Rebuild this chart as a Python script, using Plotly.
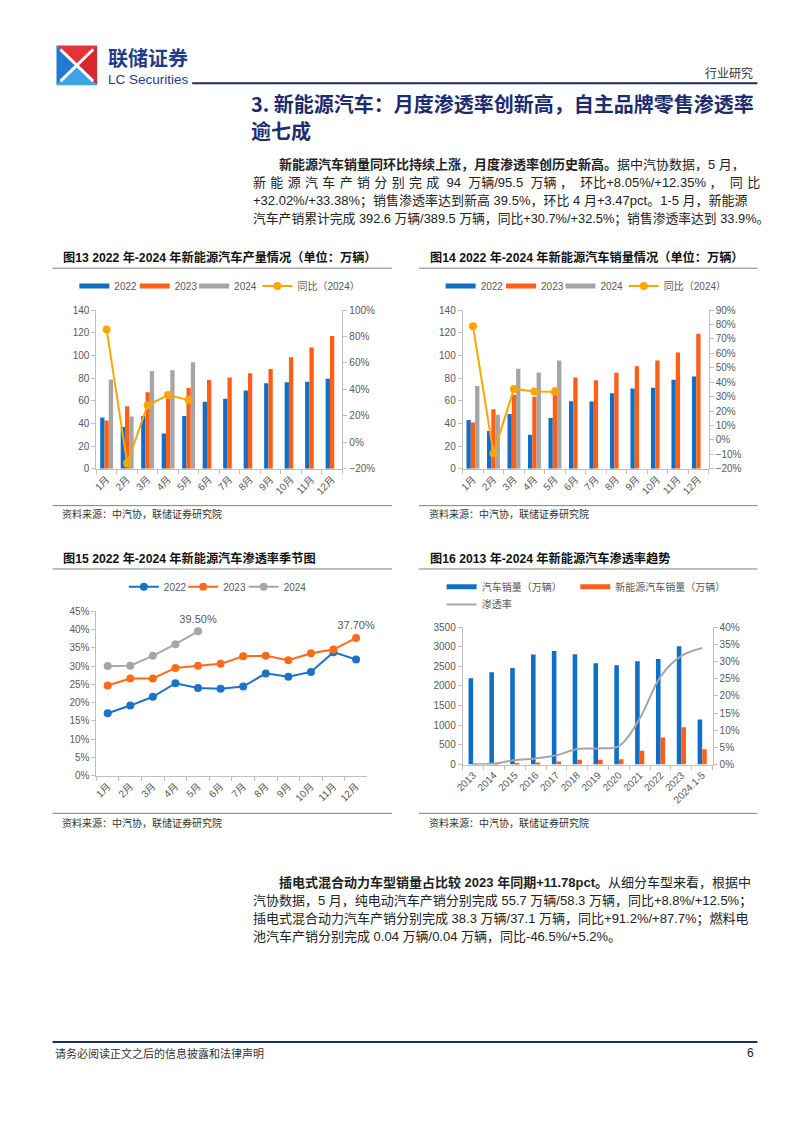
import plotly.graph_objects as go

# ---------------- data ----------------
months = ['1月', '2月', '3月', '4月', '5月', '6月', '7月', '8月', '9月', '10月', '11月', '12月']

prod_2022 = [45.2, 36.8, 46.5, 31.2, 46.6, 59.0, 61.7, 69.1, 75.5, 76.2, 76.8, 79.5]
prod_2023 = [42.5, 55.2, 67.4, 64.0, 71.3, 78.4, 80.5, 84.3, 87.9, 98.3, 107.0, 117.2]
prod_2024 = [78.7, 46.0, 86.3, 87.0, 94.0]
prod_yoy_2024 = [85.2, -15.8, 28.0, 35.7, 32.0]

sales_2022 = [43.1, 33.4, 48.4, 29.9, 44.7, 59.6, 59.3, 66.6, 70.8, 71.4, 78.6, 81.4]
sales_2023 = [40.8, 52.5, 65.3, 63.6, 71.7, 80.6, 78.0, 84.6, 90.4, 95.6, 102.6, 119.1]
sales_2024 = [72.9, 47.7, 88.3, 85.0, 95.5]
sales_yoy_2024 = [78.8, -9.2, 35.3, 33.5, 33.3]

pen_2022 = [17.1, 19.2, 21.6, 25.3, 24.0, 23.8, 24.4, 28.0, 27.1, 28.4, 33.8, 31.8]
pen_2023 = [24.7, 26.6, 26.6, 29.5, 30.1, 30.6, 32.7, 32.8, 31.6, 33.5, 34.5, 37.7]
pen_2024 = [30.0, 30.1, 32.8, 36.0, 39.5]

years = ['2013', '2014', '2015', '2016', '2017', '2018', '2019', '2020', '2021', '2022', '2023', '2024.1-5']
car_sales = [2198, 2349, 2460, 2803, 2888, 2808, 2577, 2531, 2628, 2686, 3009, 1149]
nev_sales = [1.8, 7.5, 33.1, 50.7, 77.7, 125.6, 120.6, 136.7, 352.1, 688.7, 949.5, 389.5]
nev_pen = [0.1, 0.3, 1.3, 1.8, 2.7, 4.5, 4.7, 5.4, 13.4, 25.6, 31.6, 33.9]

# ---------------- helpers ----------------
W, H = 802, 1133
def X(px): return px / W
def Y(py): return 1 - py / H

BLUE = '#0F6FC6'
ORANGE = '#FF5F14'
GRAY = '#A5A5A5'
YOY = '#FFA500'
NAVY = '#1C2C6E'
TICK = dict(size=10, color='#595959', family='Liberation Sans, Noto Sans CJK SC')
BODY = 'Liberation Sans, Noto Sans CJK SC'
CJK = 'Noto Sans CJK SC'

fig = go.Figure()
ann = []
shapes = []
legends = {}
_leg_n = [0]

def new_legend(text_x, y):
    _leg_n[0] += 1
    key = 'legend' if _leg_n[0] == 1 else f'legend{_leg_n[0]}'
    legends[key] = dict(x=X(text_x - 45), y=Y(y), xanchor='left', yanchor='middle', orientation='h',
                        bgcolor='rgba(0,0,0,0)', font=dict(size=10, color='#595959', family=BODY),
                        itemclick=False, itemdoubleclick=False)
    return key

def txt(s, x, y, size=13, color='#222222', anchor='left', family=BODY):
    ann.append(dict(text=s, x=X(x), y=Y(y), xref='paper', yref='paper', xanchor=anchor,
                    yanchor='middle', showarrow=False, font=dict(size=size, color=color, family=family)))

def hline(x0, x1, y, color='#808080', width=1):
    shapes.append(dict(type='line', xref='paper', yref='paper', x0=X(x0), x1=X(x1), y0=Y(y), y1=Y(y),
                       line=dict(color=color, width=width)))

def legend_line(name, color, width, legend, xa, ya):
    fig.add_trace(go.Scatter(x=[None], y=[None], mode='lines', name=name,
                             line=dict(color=color, width=width),
                             legend=legend, xaxis=xa, yaxis=ya, hoverinfo='skip'))

# ---------------- chart 13 & 14: grouped bars + yoy ----------------
offs = [-0.315, -0.105, 0.105]
def bar_chart(xa, yl, yr, vals, yoy, dx):
    for (name, v, c, o, tx) in zip(['2022', '2023', '2024'], vals, [BLUE, ORANGE, GRAY], offs, [112, 173, 233]):
        fig.add_trace(go.Bar(x=months[:len(v)], y=v, name=name, marker=dict(color=c, line=dict(width=0)),
                             width=0.21, offset=o, xaxis=xa, yaxis=yl, showlegend=False))
        legend_line(name, c, 5, new_legend(tx + dx, 283), xa, yl)
    fig.add_trace(go.Scatter(x=months[:len(yoy)], y=yoy, name='同比（2024）', mode='lines+markers',
                             line=dict(color=YOY, width=2), marker=dict(color=YOY, size=8),
                             xaxis=xa, yaxis=yr, legend=new_legend(297 + dx, 283)))

bar_chart('x', 'y', 'y2', [prod_2022, prod_2023, prod_2024], prod_yoy_2024, 0)
bar_chart('x2', 'y3', 'y4', [sales_2022, sales_2023, sales_2024], sales_yoy_2024, 370)

# ---------------- chart 15: penetration lines ----------------
for name, v, c, tx in [('2022', pen_2022, '#1A73C9', 162), ('2023', pen_2023, '#FF6A1A', 222),
                       ('2024', pen_2024, '#A6A6A6', 283)]:
    labels = [''] * len(v)
    if name in ('2023', '2024'):
        labels[-1] = f'{v[-1]:.2f}%'
    fig.add_trace(go.Scatter(x=months[:len(v)], y=v, name=name, mode='lines+markers+text',
                             text=labels, textposition='top center', cliponaxis=False,
                             textfont=dict(size=11, color='#595959', family=BODY),
                             line=dict(color=c, width=2), marker=dict(color=c, size=8),
                             xaxis='x3', yaxis='y5', legend=new_legend(tx, 587)))

# ---------------- chart 16: long-term trend ----------------
fig.add_trace(go.Bar(x=years, y=car_sales, name='汽车销量（万辆）', marker=dict(color=BLUE, line=dict(width=0)),
                     width=0.22, offset=-0.22, xaxis='x4', yaxis='y6', showlegend=False))
legend_line('汽车销量（万辆）', BLUE, 5, new_legend(483, 587), 'x4', 'y6')
fig.add_trace(go.Bar(x=years, y=nev_sales, name='新能源汽车销量（万辆）', marker=dict(color=ORANGE, line=dict(width=0)),
                     width=0.22, offset=0.0, xaxis='x4', yaxis='y6', showlegend=False))
legend_line('新能源汽车销量（万辆）', ORANGE, 5, new_legend(618, 587), 'x4', 'y6')
fig.add_trace(go.Scatter(x=years, y=nev_pen, name='渗透率', mode='lines', line=dict(color=GRAY, width=2, shape='spline'),
                         xaxis='x4', yaxis='y7', legend=new_legend(483, 605)))

# ---------------- axes ----------------
def xax(x0, x1, anchor, cats):
    return dict(domain=[X(x0), X(x1)], anchor=anchor, type='category', categoryorder='array', categoryarray=cats,
                range=[-0.5, len(cats) - 0.5], tickangle=-45, ticks='outside', tickson='boundaries', ticklen=4,
                tickcolor='#BFBFBF', showline=True, linecolor='#BFBFBF', linewidth=1, showgrid=False,
                tickfont=TICK, fixedrange=True)

def yax(y0, y1, anchor, rng, dtick, side='left', overlay=None, suffix=''):
    d = dict(anchor=anchor, range=rng, dtick=dtick, side=side, ticks='outside', ticklen=4, tickcolor='#BFBFBF',
             showline=True, linecolor='#BFBFBF', linewidth=1, showgrid=False, zeroline=False,
             tickfont=TICK, ticksuffix=suffix, fixedrange=True)
    if overlay:
        d['overlaying'] = overlay
    else:
        d['domain'] = [Y(y0), Y(y1)]
    return d

layout = dict(
    xaxis=xax(89.3, 337.7, 'y', months),
    yaxis=yax(467.7, 307.3, 'x', [0, 140], 20),
    yaxis2=yax(0, 0, 'x', [-20, 100], 20, side='right', overlay='y', suffix='%'),
    xaxis2=xax(459.3, 707.7, 'y3', months),
    yaxis3=yax(467.7, 307.3, 'x2', [0, 140], 20),
    yaxis4=yax(0, 0, 'x2', [-20, 90], 10, side='right', overlay='y3', suffix='%'),
    xaxis3=xax(89.3, 363, 'y5', months),
    yaxis5=yax(778, 611.7, 'x3', [0, 45], 5, suffix='%'),
    xaxis4=xax(459.3, 711.7, 'y6', years),
    yaxis6=yax(766.7, 627.7, 'x4', [0, 3500], 500),
    yaxis7=yax(0, 0, 'x4', [0, 40], 5, side='right', overlay='y6', suffix='%'),
)
layout.update(legends)

# ---------------- page decorations ----------------
# logo
lx0, lx1, ly0, ly1 = 49, 90, 40, 80
cx, cy = (lx0 + lx1) / 2, (ly0 + ly1) / 2
def tri(pts, color):
    p = 'M ' + ' L '.join(f'{X(a):.5f},{Y(b):.5f}' for a, b in pts) + ' Z'
    shapes.append(dict(type='path', xref='paper', yref='paper', path=p, fillcolor=color, line=dict(width=0)))
tri([(lx0, ly0), (lx1, ly0), (cx, cy)], '#E63339')
tri([(lx1, ly0), (lx1, ly1), (cx, cy)], '#D8262E')
tri([(lx0, ly0), (lx0, ly1), (cx, cy)], '#1E7BD1')
tri([(lx0, ly1), (lx1, ly1), (cx, cy)], '#3FA2E6')
for (a, b) in [((lx0 + 4, ly0 + 4), (lx1 - 4, ly1 - 4)), ((lx1 - 4, ly0 + 4), (lx0 + 4, ly1 - 4))]:
    shapes.append(dict(type='line', xref='paper', yref='paper', x0=X(a[0]), y0=Y(a[1]), x1=X(b[0]), y1=Y(b[1]),
                       line=dict(color='white', width=3)))
txt('<b>联储证券</b>', 99, 52, size=20, color='#1F3C88', family=CJK)
txt('LC Securities', 99, 74, size=13.5, color='#1F3C88', family='Liberation Sans')
hline(186, 757, 78, color=NAVY, width=2)
txt('行业研究', 755, 67, size=12, color='#333333', anchor='right', family=CJK)

# section title
txt('<b>3. 新能源汽车：月度渗透率创新高，自主品牌零售渗透率</b>', 243, 99, size=20, color=NAVY, family=CJK)
txt('<b>逾七成</b>', 243, 126, size=20, color=NAVY, family=CJK)

# paragraph 1
SP = '\u2004'
NB = '\u00a0'
line2 = SP.join('新能源汽车产销分别完成') + f'{NB}{NB}94{NB}{NB}万辆/95.5{NB}{NB}万辆{NB}，{NB}{NB}环比+8.05%/+12.35%{NB}，{NB}{NB}同{SP}比'
p1 = [
    (272, '<b>新能源汽车销量同环比持续上涨，月度渗透率创历史新高。</b>据中汽协数据，5 月，'),
    (245, line2),
    (245, '+32.02%/+33.38%；销售渗透率达到新高 39.5%，环比 4 月+3.47pct。1-5 月，新能源'),
    (245, '汽车产销累计完成 392.6 万辆/389.5 万辆，同比+30.7%/+32.5%；销售渗透率达到 33.9%。'),
]
for i, (x0, s) in enumerate(p1):
    txt(s, x0, 160 + i * 18.5, size=13 if i != 3 else 12.8, color='#222222')

# paragraph 2
p2 = [
    (272, '<b>插电式混合动力车型销量占比较 2023 年同期+11.78pct。</b>从细分车型来看，根据中'),
    (245, '汽协数据，5 月，纯电动汽车产销分别完成 55.7 万辆/58.3 万辆，同比+8.8%/+12.5%；'),
    (245, '插电式混合动力汽车产销分别完成 38.3 万辆/37.1 万辆，同比+91.2%/+87.7%；燃料电'),
    (245, '池汽车产销分别完成 0.04 万辆/0.04 万辆，同比-46.5%/+5.2%。'),
]
for i, (x0, s) in enumerate(p2):
    txt(s, x0, 886 + i * 18.2, size=13, color='#222222')

# chart titles / sources
for (x0, x1, ty, ly, sy, sly, title) in [
    (45, 388, 254, 265, 513, 505, '图13 2022 年-2024 年新能源汽车产量情况（单位：万辆）'),
    (415, 757, 254, 265, 513, 505, '图14 2022 年-2024 年新能源汽车销量情况（单位：万辆）'),
    (45, 388, 558, 569, 825, 816, '图15 2022 年-2024 年新能源汽车渗透率季节图'),
    (415, 757, 558, 569, 825, 816, '图16 2013 年-2024 年新能源汽车渗透率趋势'),
]:
    txt(f'<b>{title}</b>', x0 + 9, ty, size=12.2, color='#111111', family=BODY)
    hline(x0, x1, ly, color='#7F7F7F', width=1)
    hline(x0, x1, sly, color='#7F7F7F', width=1)
    txt('资料来源：中汽协，联储证券研究院', x0 + 8, sy, size=10, color='#333333', family=CJK)

# footer
hline(45, 757, 1047, color=NAVY, width=2)
txt('请务必阅读正文之后的信息披露和法律声明', 45, 1058, size=11, color='#333333', family=CJK)
txt('6', 756, 1058, size=12, color='#222222', anchor='right', family='Liberation Sans')

fig.update_layout(layout)
fig.update_layout(width=W, height=H, autosize=False, margin=dict(l=0, r=0, t=0, b=0),
                  paper_bgcolor='white', plot_bgcolor='rgba(0,0,0,0)', barmode='overlay',
                  annotations=ann, shapes=shapes, hovermode=False, font=dict(family=BODY))

fig.write_html('out.html', config={'displayModeBar': False},
               post_script="document.body.style.margin='0px';document.body.style.overflow='hidden';")
